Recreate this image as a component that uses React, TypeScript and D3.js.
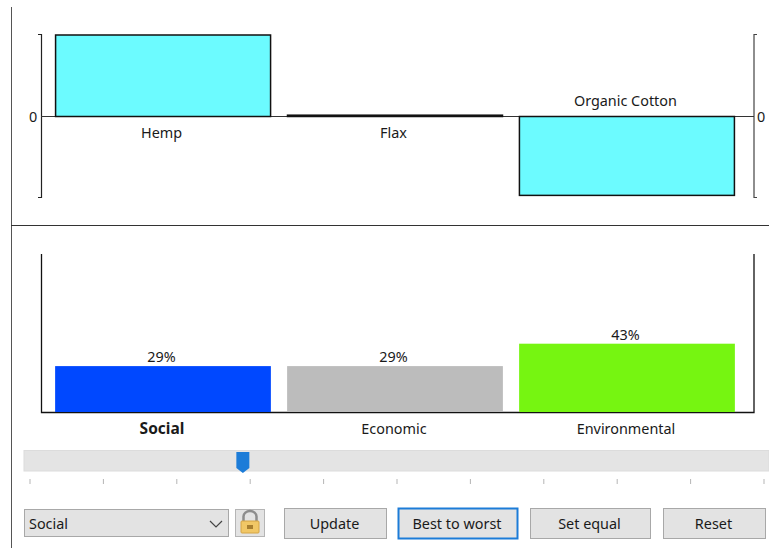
import React from "react";
import * as d3 from "d3";

const materials = ["Hemp", "Flax", "Organic Cotton"];
const materialValues = [1, 0.01, -0.98];
const criteria = ["Social", "Economic", "Environmental"];
const criteriaWeights = [29, 29, 43];
const criteriaColors = ["#0048ff", "#bcbcbc", "#76f511"];
const sliderTicks = d3.range(0, 11);
const sliderValue = 2.9;
const buttons = [
  { label: "Update", x: 284, w: 103, focus: false },
  { label: "Best to worst", x: 398, w: 120, focus: true },
  { label: "Set equal", x: 530, w: 121, focus: false },
  { label: "Reset", x: 663, w: 103, focus: false },
];

const FONT = "'Noto Sans', sans-serif";
const TEXT = "#1a1a1a";

export default function App() {
  const xTop = d3.scaleBand<string>().domain(materials).range([47, 743]).paddingInner(0.073).paddingOuter(0.037);
  const yTop = d3.scaleLinear().domain([-1, 1]).range([197, 35]);
  const xBot = d3.scaleBand<string>().domain(criteria).range([47, 743]).paddingInner(0.07).paddingOuter(0.035);
  const yBot = d3.scaleLinear().domain([0, 100]).range([412.5, 252.5]);
  const xSlider = d3.scaleLinear().domain([0, 10]).range([30, 764]);
  const hx = xSlider(sliderValue);
  const y0 = 116.5;

  return (
    <svg width={769} height={548} style={{ position: "absolute", left: 0, top: 0, background: "#fff" }} fontFamily={FONT} fontSize={14.4} fill={TEXT}>
      <line x1={11.5} x2={11.5} y1={7} y2={548} stroke="#555" strokeWidth={1} />
      <line x1={11} x2={769} y1={225.5} y2={225.5} stroke="#333" strokeWidth={1} />

      {/* top chart axes */}
      <path d="M38 34.5H41.5V197.5H38" fill="none" stroke="#222" strokeWidth={1.2} />
      <path d="M757 34.5H754V197.5H757" fill="none" stroke="#444" strokeWidth={1.2} />
      <line x1={41} x2={754} y1={y0} y2={y0} stroke="#333" strokeWidth={1.2} />
      <text x={33} y={y0 + 5} textAnchor="middle">0</text>
      <text x={761} y={y0 + 5} textAnchor="middle">0</text>
      {materials.map((m, i) => {
        const v = materialValues[i];
        const x = xTop(m)!;
        const w = xTop.bandwidth();
        const top = Math.min(yTop(v), y0);
        const h = Math.abs(yTop(v) - y0);
        return (
          <g key={m}>
            <rect x={x} y={top} width={w} height={h} fill="#6cfbff" stroke="#111" strokeWidth={1.5} />
            <text x={x + w / 2 - 1.5} y={v >= 0 ? y0 + 21.5 : y0 - 11} textAnchor="middle">{m}</text>
          </g>
        );
      })}

      {/* bottom chart axes */}
      <path d="M41.5 254V412.5H754V254" fill="none" stroke="#111" strokeWidth={1.3} />
      {criteria.map((c, i) => {
        const x = xBot(c)!;
        const w = xBot.bandwidth();
        const yy = yBot(criteriaWeights[i]);
        return (
          <g key={c}>
            <rect x={x} y={yy} width={w} height={412 - yy} fill={criteriaColors[i]} />
            <text x={x + w / 2 - 1.5} y={yy - 4} textAnchor="middle">{criteriaWeights[i]}%</text>
            <text x={x + w / 2 - 1} y={433.5} textAnchor="middle" fontWeight={i === 0 ? 700 : 400} fontSize={i === 0 ? 15.5 : 14.4}>{c}</text>
          </g>
        );
      })}

      {/* slider */}
      <rect x={24} y={450.5} width={745} height={20.5} fill="#e4e4e4" stroke="#dcdcdc" />
      <path d={`M${hx - 6.5} 452H${hx + 6.5}V468L${hx} 473L${hx - 6.5} 468Z`} fill="#1c7cd8" />
      {sliderTicks.map((t) => (
        <line key={t} x1={xSlider(t)} x2={xSlider(t)} y1={479} y2={484} stroke="#b5b5b5" />
      ))}

      {/* controls */}
      <rect x={24.5} y={509.5} width={204} height={27} fill="#e3e3e3" stroke="#a8a8a8" />
      <text x={29} y={528.5}>Social</text>
      <path d="M210 521L216 527L222 521" fill="none" stroke="#444" strokeWidth={1.2} />
      <rect x={235.5} y={509.5} width={29} height={27} fill="#e3e3e3" stroke="#b5b5b5" />
      <path d="M243.5 521V516.5A6.5 5.5 0 0 1 256.5 516.5V521" fill="none" stroke="#8d8d8d" strokeWidth={2.5} />
      <rect x={241} y={521} width={18} height={12} rx={1} fill="#f1c766" stroke="#d4a445" />
      <rect x={247} y={525} width={6} height={4} fill="#a87f30" />
      {buttons.map((b) => (
        <g key={b.label}>
          <rect x={b.x + 0.5} y={508.5} width={b.w - 1} height={30} fill="#e3e3e3" stroke={b.focus ? "#1c7cd8" : "#a8a8a8"} strokeWidth={b.focus ? 2 : 1} />
          <text x={b.x + b.w / 2 - 1} y={528.5} textAnchor="middle">{b.label}</text>
        </g>
      ))}
    </svg>
  );
}
